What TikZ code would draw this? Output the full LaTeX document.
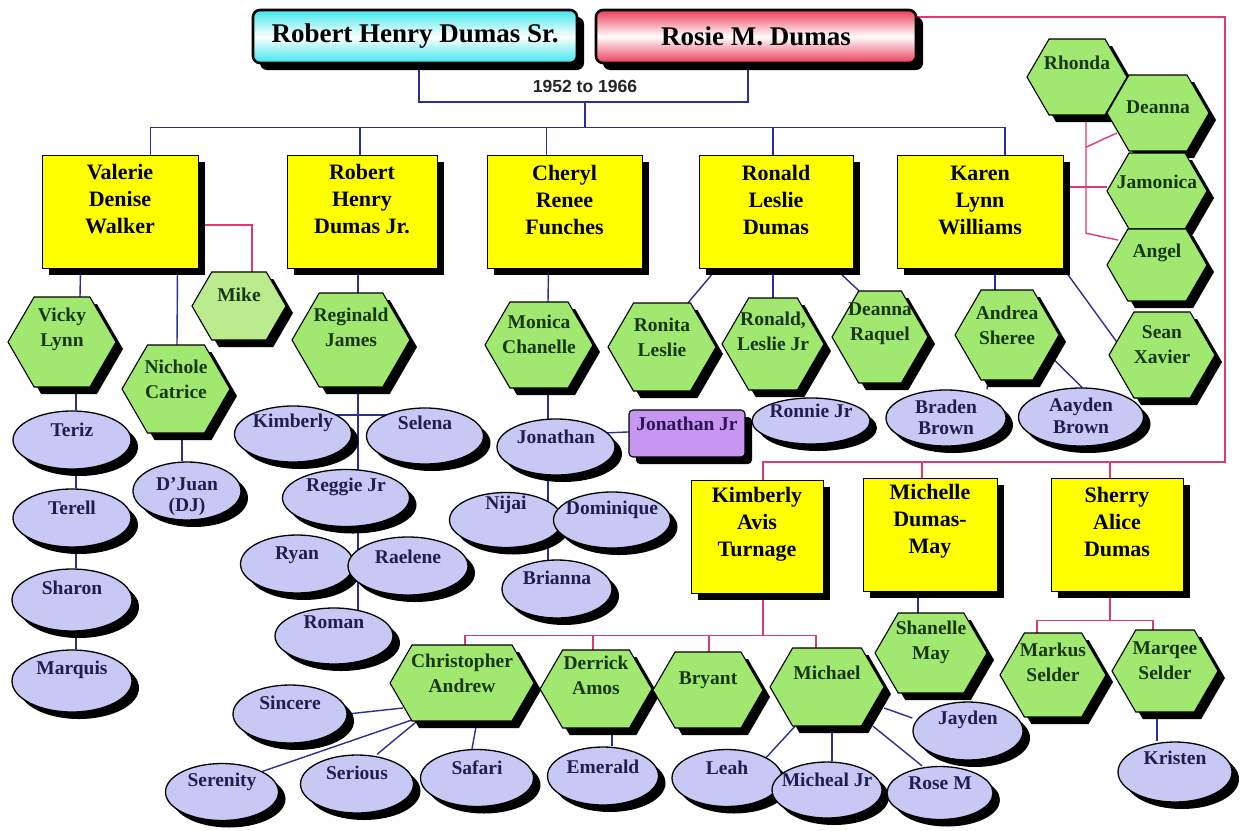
\documentclass[tikz,border=0pt]{standalone}
\usepackage{fontspec}
\setmainfont{Liberation Serif}
\setsansfont{Liberation Sans}
\usetikzlibrary{shapes.geometric,shadows}
\pgfdeclarelayer{bg}
\pgfsetlayers{bg,main}
\definecolor{cblue}{RGB}{45,45,150}
\definecolor{cpink}{RGB}{222,60,112}
\definecolor{cyel}{RGB}{255,255,0}
\definecolor{cgreen}{RGB}{160,232,112}
\definecolor{clight}{RGB}{186,236,142}
\definecolor{clav}{RGB}{200,200,245}
\definecolor{cpurp}{RGB}{198,150,240}
\definecolor{ctxtg}{RGB}{25,55,20}
\definecolor{ctxtb}{RGB}{30,30,80}
\definecolor{ctxtp}{RGB}{45,20,85}
\definecolor{ccyan}{RGB}{60,230,235}
\definecolor{cred}{RGB}{238,60,90}
\tikzset{
  bl/.style={draw=cblue, line width=1.4pt},
  pk/.style={draw=cpink, line width=1.4pt},
  shad/.style={drop shadow={shadow xshift=7pt, shadow yshift=-7pt, fill=black, opacity=1}},
  ybox/.style={rectangle, fill=cyel, draw=black, line width=0.8pt, shad, inner sep=0pt},
  ell/.style={ellipse, fill=clav, draw=black, line width=1.3pt, shad, inner sep=0pt},
  hexpath/.style={draw=black, line width=1.1pt, line join=miter, shad},
  holder/.style={rectangle, inner sep=0pt, draw=none},
  htxt/.style={font=\bfseries\fontsize{19.5}{24.5}\selectfont, text=ctxtg, align=center, inner sep=0pt},
  etxt/.style={font=\bfseries\fontsize{19.5}{21.5}\selectfont, text=ctxtb, align=center, inner sep=0pt},
  ytxt/.style={font=\bfseries\fontsize{22}{27}\selectfont, text=black, align=center, inner sep=0pt},
  topbox/.style={rectangle, rounded corners=7pt, draw=black, line width=2.6pt, shad, inner sep=0pt, minimum height=53pt, font=\bfseries\fontsize{27}{30}\selectfont},
}
% #1 fill, #2 name, #3 cx, #4 cy, #5 half width, #6 half height, #7 text y, #8 text
\newcommand\HexNode[8][cgreen]{%
  \filldraw[hexpath, fill=#1] ({#3-#5},#4) -- ({#3-#5+0.58*#6},{#4-#6}) -- ({#3+#5-0.58*#6},{#4-#6}) -- ({#3+#5},#4) -- ({#3+#5-0.58*#6},{#4+#6}) -- ({#3-#5+0.58*#6},{#4+#6}) -- cycle;
  \node[holder, minimum width={2*#5}, minimum height={2*#6}] (#2) at (#3,#4) {};
  \node[htxt] (#2-t) at (#3,#7) {#8};
}
% #1 name, #2 cx, #3 cy, #4 w, #5 h, #6 text y, #7 text
\newcommand\EllNode[7]{%
  \node[ell, minimum width=#4, minimum height=#5] (#1) at (#2,#3) {};
  \node[etxt] (#1-t) at (#2,#6) {#7};
}
% #1 name, #2 x1, #3 y1, #4 x2, #5 y2, #6 text y, #7 text
\newcommand\YBox[7]{%
  \node[ybox, minimum width={#4-#2}, minimum height={#5-#3}] (#1) at ({(#2+#4)/2},{(#3+#5)/2}) {};
  \node[ytxt] (#1-t) at ({(#2+#4)/2},#6) {#7};
}
\begin{document}
\begin{tikzpicture}[x=1pt,y=-1pt]
\begin{pgfonlayer}{bg}
\fill[white] (0,0) rectangle (1244,830);
\end{pgfonlayer}
\useasboundingbox (0,0) rectangle (1244,830);

% parents
\node[topbox, top color=ccyan, bottom color=ccyan, middle color=white, minimum width=324pt] (rhs) at (415,36.5) {Robert Henry Dumas Sr.};
\node[topbox, top color=cred, bottom color=cred, middle color=white, minimum width=320pt] (rosie) at (756,36.5) {Rosie M. Dumas};
\node[font=\sffamily\bfseries\fontsize{17.5}{20}\selectfont, text=black!85, inner sep=0pt] (yr) at (585,86) {1952 to 1966};
\coordinate (marr) at (585,102);
\coordinate (kidsbar) at (585,128);
\coordinate (pinkc) at (1225,462);

% children (yellow)
\YBox{valerie}{42}{155}{198}{268}{199.5}{Valerie\\Denise\\Walker}
\YBox{rjr}{287}{155}{437}{268}{199.5}{Robert\\Henry\\Dumas Jr.}
\YBox{cheryl}{487}{155}{642}{268}{199.5}{Cheryl\\Renee\\Funches}
\YBox{ronald}{699}{155}{853}{268}{199.5}{Ronald\\Leslie\\Dumas}
\YBox{karen}{897}{155}{1063}{268}{200}{Karen\\Lynn\\Williams}
\YBox{kimT}{691}{480}{823}{593}{524.5}{Kimberly\\Avis\\Turnage}
\YBox{michelle}{863}{478}{997}{591}{521.5}{Michelle\\Dumas-\\May}
\YBox{sherry}{1051}{478}{1183}{591}{521.5}{Sherry\\Alice\\Dumas}

% grandchildren (hexagons), first row
\HexNode{vicky}{62}{342}{54}{45}{329.5}{Vicky\\Lynn}
\HexNode{nichole}{176}{389}{54}{44}{379.5}{Nichole\\Catrice}
\HexNode[clight]{mike}{239}{306}{47}{34}{295}{Mike}
\HexNode{reginald}{351}{340}{59}{47}{327.5}{Reginald\\James}
\HexNode{monica}{539}{345}{54}{43}{334.5}{Monica\\Chanelle}
\HexNode{ronita}{662}{347}{54}{44}{337.5}{Ronita\\Leslie}
\HexNode{ronaldjr}{773}{344}{51}{46}{331.5}{Ronald,\\Leslie Jr}
\HexNode{deannar}{880}{337}{48}{46}{323.5}{Deanna\\Raquel}
\HexNode{andrea}{1007}{335}{52}{45}{325.5}{Andrea\\Sheree}
\HexNode{rhonda}{1077}{77}{50}{38}{63}{Rhonda}
\HexNode{deanna}{1158}{113}{51}{38}{107}{Deanna}
\HexNode{jamonica}{1157}{191}{50}{38}{182}{Jamonica}
\HexNode{angel}{1157}{265}{50}{36}{253}{Angel}
\HexNode{sean}{1162}{355}{53}{43}{344.5}{Sean\\Xavier}

% ellipses, upper part
\EllNode{teriz}{72}{440}{118}{58}{430}{Teriz}
\EllNode{terell}{72}{518}{118}{58}{508}{Terell}
\EllNode{sharon}{72}{600}{120}{62}{588}{Sharon}
\EllNode{marquis}{72}{681}{120}{62}{670}{Marquis}
\EllNode{djuan}{187}{491}{108}{58}{496.5}{D’Juan\\(DJ)}
\EllNode{kimberly}{293}{434}{117}{56}{423}{Kimberly}
\EllNode{selena}{425}{436}{117}{56}{423}{Selena}
\EllNode{reggie}{346}{498}{127}{57}{487}{Reggie Jr}
\EllNode{ryan}{297}{564}{113}{58}{555}{Ryan}
\EllNode{raelene}{408}{566}{120}{58}{557}{Raelene}
\EllNode{roman}{334}{636}{118}{56}{622}{Roman}
\EllNode{jonathan}{556}{447}{118}{56}{437}{Jonathan}
\node[rectangle, rounded corners=4pt, fill=cpurp, draw=black, line width=1.1pt, shad, minimum width=116pt, minimum height=47pt, inner sep=0pt] (jonjr) at (687,433.5) {};
\node[etxt, text=ctxtp] (jonjr-t) at (687,424) {Jonathan Jr};
\EllNode{nijai}{506}{520}{113}{55}{505}{Nijai}
\EllNode{dominique}{612}{520}{117}{56}{510}{Dominique}
\EllNode{brianna}{557}{589}{110}{58}{578}{Brianna}
\EllNode{ronnie}{811}{421}{118}{46}{411}{Ronnie Jr}
\EllNode{braden}{946}{418}{120}{56}{417.5}{Braden\\Brown}
\EllNode{aayden}{1081}{417}{125}{58}{416}{Aayden\\Brown}

% second row grandchildren
\HexNode{chris}{462}{683}{72}{38}{673.5}{Christopher\\Andrew}
\HexNode{derrick}{596}{689}{56}{39}{675.5}{Derrick\\Amos}
\HexNode{bryant}{708}{690}{55}{38}{680}{Bryant}
\HexNode{michael}{827}{687}{57}{39}{673}{Michael}
\HexNode{shanelle}{931}{653}{56}{40}{642.5}{Shanelle\\May}
\HexNode{markus}{1053}{675}{53}{42}{662.5}{Markus\\Selder}
\HexNode{marqee}{1165}{671}{53}{41}{660.5}{Marqee\\Selder}

\EllNode{sincere}{290}{714}{114}{58}{703}{Sincere}
\EllNode{serenity}{222}{792}{113}{57}{782}{Serenity}
\EllNode{serious}{357}{784}{113}{58}{773}{Serious}
\EllNode{safari}{477}{778}{113}{57}{768}{Safari}
\EllNode{emerald}{603}{776}{111}{58}{767}{Emerald}
\EllNode{jayden}{968}{731}{110}{58}{720}{Jayden}
\EllNode{leah}{727}{778}{110}{57}{768}{Leah}
\EllNode{mjr}{827}{790}{110}{56}{780}{Micheal Jr}
\EllNode{rosem}{940}{793}{106}{53}{783}{Rose M}
\EllNode{kristen}{1175}{772}{114}{60}{758}{Kristen}

% connectors
\begin{pgfonlayer}{bg}
\draw[bl] ([xshift=4pt]rhs.south) |- (marr) -| ([xshift=-8pt]rosie.south);
\draw[bl] (marr) -- (kidsbar);
\draw[bl] ([xshift=30.5pt]valerie.north) -- ++(0,-27) -| ([xshift=25pt]karen.north);
\draw[bl] ([xshift=-2pt]rjr.north) -- ++(0,-27);
\draw[bl] ([xshift=-18pt]cheryl.north) -- ++(0,-27);
\draw[bl] ([xshift=-3pt]ronald.north) -- ++(0,-27);

\draw[bl] ([xshift=-39.5pt]valerie.south) -- ([xshift=18pt]vicky.north);
\draw[bl] ([xshift=57.5pt]valerie.south) -- ([xshift=1pt]nichole.north);
\draw[pk] ([yshift=-13.5pt]valerie.east) -| ([xshift=13pt]mike.north);
\draw[bl] ([xshift=14pt]vicky.south) -- ([xshift=4pt]teriz.north);
\draw[bl] ([xshift=4pt]teriz.south) -- ([xshift=4pt]terell.north);
\draw[bl] ([xshift=4pt]terell.south) -- ([xshift=4pt]sharon.north);
\draw[bl] ([xshift=4pt]sharon.south) -- ([xshift=4pt]marquis.north);
\draw[bl] ([xshift=6pt]nichole.south) -- ([xshift=-5pt]djuan.north);

\draw[bl] ([xshift=-4pt]rjr.south) -- ([xshift=7pt]reginald.north);
\draw[bl] ([xshift=7pt]reginald.south) -- ([xshift=24pt]roman.center);
\draw[bl] ([yshift=19pt]kimberly.center) -- ([yshift=21pt]selena.center);

\draw[bl] ([xshift=-16pt]cheryl.south) -- ([xshift=9pt]monica.north);
\draw[bl] ([xshift=9pt]monica.south) -- ([xshift=-9pt]brianna.center);
\draw[bl] ([yshift=12pt]jonathan.center) -- ([yshift=4pt]jonjr.center);

\draw[bl] ([xshift=-59pt]ronald.south) -- ([xshift=26pt]ronita.north);
\draw[bl] ([xshift=-3pt]ronald.south) -- (ronaldjr.north);
\draw[bl] ([xshift=59pt]ronald.south) -- ([xshift=-21pt]deannar.north);
\draw[bl] ([xshift=4pt]ronaldjr.south) -- ([xshift=-34pt]ronnie.north);

\draw[bl] ([xshift=15pt]karen.south) -- ([xshift=-12pt]andrea.north);
\draw[bl] (karen.south east) -- ([xshift=8pt,yshift=13pt]sean.west);
\draw[bl] ([xshift=-19pt]andrea.south) -- ([xshift=41pt]braden.north);
\draw[bl] ([xshift=-10pt,yshift=-20pt]andrea.east) -- ([xshift=1pt]aayden.north);
\draw[pk] ([yshift=24.5pt]karen.east) -- ([yshift=4pt]jamonica.west);
\draw[pk] ([xshift=9pt]rhonda.south) -- ++(0,118) -- ([xshift=11pt,yshift=25pt]angel.west);
\draw[pk] ([xshift=9pt,yshift=-32pt]rhonda.south) -- ([xshift=10pt,yshift=-20pt]deanna.west);

\draw[pk] ([yshift=19.5pt]rosie.east) -| (pinkc) -| ([xshift=6pt]kimT.north);
\draw[pk] ([xshift=-8pt]michelle.north) -- ++(0,-16);
\draw[pk] ([xshift=-7pt]sherry.north) -- ++(0,-16);

\draw[pk] ([xshift=6pt]kimT.south) -- ++(0,42) coordinate (kb);
\draw[pk] ([xshift=3pt]chris.north) |- (kb) -| ([xshift=-11pt]michael.north);
\draw[pk] ([xshift=-3pt]derrick.north) -- ++(0,-15);
\draw[pk] ([xshift=1pt]bryant.north) -- ++(0,-17);

\draw[bl] ([xshift=13pt,yshift=-25pt]chris.west) -- (sincere.east);
\draw[bl] ([xshift=22pt,yshift=-37pt]chris.west) -- (serenity.north east);
\draw[bl] ([xshift=-45pt]chris.south) -- ([xshift=20pt]serious.north);
\draw[bl] ([xshift=15pt]chris.south) -- ([xshift=-5pt]safari.north);
\draw[bl] ([xshift=16pt]derrick.south) -- ([xshift=9pt]emerald.north);
\draw[bl] ([xshift=-32pt]michael.south) -- (leah.north east);
\draw[bl] ([xshift=5pt]michael.south) -- ([xshift=5pt]mjr.north);
\draw[bl] ([xshift=46pt]michael.south) -- ([xshift=-18pt]rosem.north);
\draw[bl] ([yshift=-21pt]michael.east) -- ([yshift=13pt]jayden.west);

\draw[bl] ([xshift=-12pt]michelle.south) -- ([xshift=-13pt]shanelle.north);
\draw[pk] ([xshift=-7pt]sherry.south) -- ++(0,29) coordinate (sb);
\draw[pk] ([xshift=-16pt]markus.north) |- (sb) -| ([xshift=-12pt]marqee.north);
\draw[bl] ([xshift=-8pt]marqee.south) -- ([xshift=-18pt]kristen.north);
\end{pgfonlayer}
\end{tikzpicture}
\end{document}
